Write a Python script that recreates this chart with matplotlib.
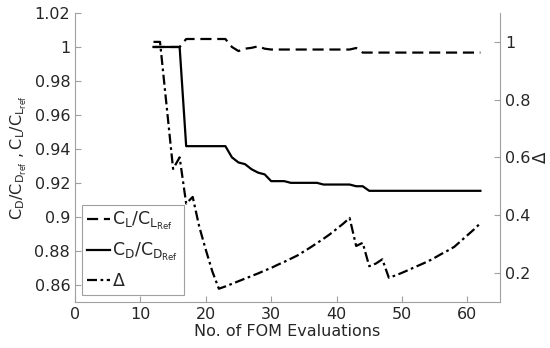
import matplotlib.pyplot as plt
from matplotlib.ticker import FormatStrFormatter

plt.rcParams['mathtext.default'] = 'regular'

# Evaluations (x)
evals = list(range(12, 63))

# C_L / C_L,ref per evaluation
cl_ratio = ([1.0] * 5                      # 12-16
            + [1.0047] * 7                 # 17-23
            + [1.0, 0.9976, 0.999, 0.9995, 1.0004, 0.999]   # 24-29
            + [0.9985] * 13                # 30-42
            + [0.9994]                     # 43
            + [0.9967] * 19)               # 44-62

# C_D / C_D,ref per evaluation
cd_ratio = ([1.0] * 5                      # 12-16
            + [0.9416] * 7                 # 17-23
            + [0.935, 0.932, 0.931, 0.928, 0.926, 0.925]    # 24-29
            + [0.921, 0.921, 0.921]        # 30-32
            + [0.920] * 5                  # 33-37
            + [0.919] * 5                  # 38-42
            + [0.918, 0.918]               # 43-44
            + [0.9153] * 18)               # 45-62

# Delta (right axis)
delta = [1.0, 1.0, 0.78, 0.56, 0.60, 0.44, 0.463, 0.36, 0.28, 0.205, 0.145,   # 12-22
         0.153, 0.162, 0.171, 0.18, 0.189, 0.198, 0.208, 0.217, 0.228, 0.238,   # 23-32
         0.249, 0.26, 0.274, 0.288, 0.303, 0.318, 0.334, 0.352, 0.37, 0.39,     # 33-42
         0.293, 0.304, 0.223, 0.232, 0.247, 0.183,                              # 43-48
         0.191, 0.2, 0.21, 0.22, 0.23, 0.24, 0.252, 0.265, 0.277, 0.29,         # 49-58
         0.31, 0.33, 0.35, 0.372]                                               # 59-62

spine_grau = '#a0a0a0'
text_farbe = '#262626'

fig = plt.figure(figsize=(5.5, 3.48), dpi=100)
ax = fig.add_axes([0.1364, 0.133, 0.7727, 0.8296])
ax2 = ax.twinx()

l1, = ax.plot(evals, cl_ratio, color='black', lw=1.6, dashes=(5, 2.6))
l2, = ax.plot(evals, cd_ratio, color='black', lw=1.6)
l3, = ax2.plot(evals, delta, color='black', lw=1.6, dashes=(4.5, 1.6, 1.2, 1.6))

ax.set_xlim(0, 65)
ax.set_ylim(0.85, 1.02)
ax2.set_ylim(0.1, 1.1)

ax.set_xticks(range(0, 61, 10))
ax.set_yticks([0.86, 0.88, 0.9, 0.92, 0.94, 0.96, 0.98, 1.0, 1.02])
ax2.set_yticks([0.2, 0.4, 0.6, 0.8, 1.0])
ax.yaxis.set_major_formatter(FormatStrFormatter('%g'))
ax2.yaxis.set_major_formatter(FormatStrFormatter('%g'))

for a in (ax, ax2):
    a.spines['top'].set_visible(False)
    for s in ('left', 'right', 'bottom'):
        a.spines[s].set_color(spine_grau)
    a.tick_params(direction='in', colors=spine_grau, labelcolor=text_farbe,
                  labelsize=11.5, length=4)
ax.spines['right'].set_visible(False)
ax2.spines['left'].set_visible(False)
ax2.spines['bottom'].set_visible(False)

ax.set_xlabel('No. of FOM Evaluations', fontsize=11.5, color=text_farbe, labelpad=2)
ax.set_ylabel(r'$C_D/C_{D_{ref}}\ ,C_L/C_{L_{ref}}$', fontsize=11.5, color=text_farbe, labelpad=4)
ax2.set_ylabel(r'$\Delta$', fontsize=12, color=text_farbe, labelpad=1)

leg = ax.legend([l1, l2, l3],
                [r'$C_L/C_{L_{Ref}}$', r'$C_D/C_{D_{Ref}}$', r'$\Delta$'],
                loc='lower left', bbox_to_anchor=(7 / 425, 6.7 / 288.7),
                borderaxespad=0, fancybox=False, framealpha=1, fontsize=12.5,
                handlelength=1.3, handletextpad=0.15, labelspacing=0.5,
                borderpad=0.3)
leg.get_frame().set_edgecolor(spine_grau)
leg.get_frame().set_linewidth(0.8)
for t in leg.get_texts():
    t.set_color(text_farbe)

fig.savefig('out.png', dpi=100)
